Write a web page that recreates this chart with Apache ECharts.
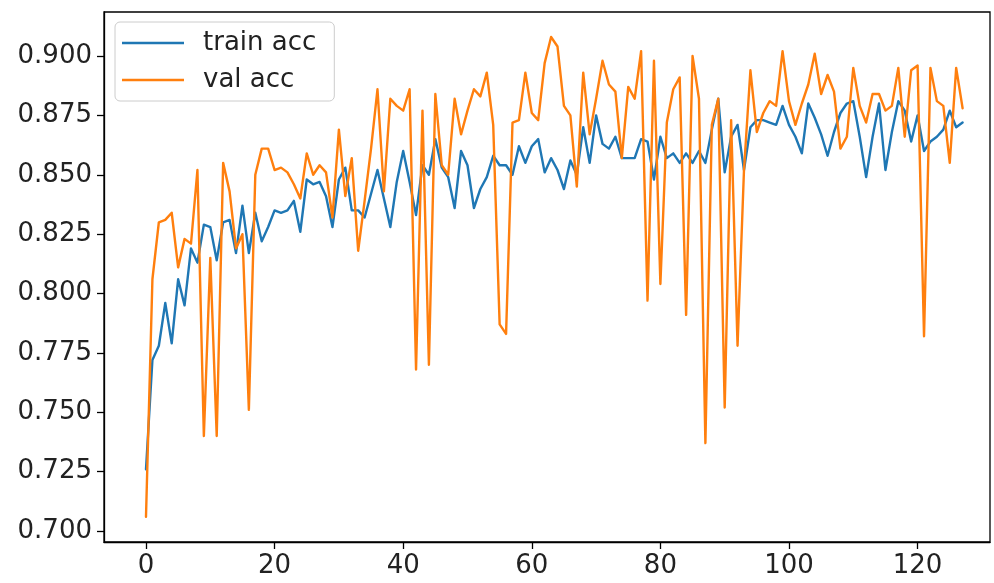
<!DOCTYPE html>
<html>
<head>
<meta charset="utf-8">
<script src="https://cdn.jsdelivr.net/npm/echarts@6/dist/echarts.min.js"></script>
<style>
html,body{margin:0;padding:0;background:#fff;}
#chart{width:994px;height:583px;}
</style>
</head>
<body>
<div id="chart"></div>
<script>
// ---- data ----
const seriesNames = ['train acc', 'val acc'];
const trainAcc = [
0.726,0.772,0.778,0.796,0.779,0.806,0.795,0.819,0.813,0.829,
0.828,0.814,0.830,0.831,0.817,0.837,0.817,0.834,0.822,0.828,
0.835,0.834,0.835,0.839,0.826,0.848,0.846,0.847,0.841,0.828,
0.848,0.853,0.835,0.835,0.832,0.842,0.852,0.840,0.828,0.847,
0.860,0.847,0.833,0.854,0.850,0.865,0.853,0.849,0.836,0.860,
0.854,0.836,0.844,0.849,0.858,0.854,0.854,0.850,0.862,0.855,
0.862,0.865,0.851,0.857,0.852,0.844,0.856,0.850,0.870,0.855,
0.875,0.863,0.861,0.866,0.857,0.857,0.857,0.865,0.864,0.848,
0.866,0.857,0.859,0.855,0.859,0.855,0.860,0.855,0.869,0.882,
0.851,0.866,0.871,0.852,0.870,0.873,0.873,0.872,0.871,0.879,
0.871,0.866,0.859,0.880,0.874,0.867,0.858,0.868,0.876,0.880,
0.881,0.866,0.849,0.866,0.880,0.852,0.868,0.881,0.877,0.864,
0.875,0.860,0.864,0.866,0.869,0.877,0.870,0.872
];
const valAcc = [
0.706,0.806,0.830,0.831,0.834,0.811,0.823,0.821,0.852,0.740,
0.815,0.740,0.855,0.843,0.819,0.825,0.751,0.850,0.861,0.861,
0.852,0.853,0.851,0.846,0.840,0.859,0.850,0.854,0.851,0.832,
0.869,0.841,0.857,0.818,0.839,0.861,0.886,0.843,0.882,0.879,
0.877,0.886,0.768,0.877,0.770,0.884,0.854,0.850,0.882,0.867,
0.877,0.886,0.883,0.893,0.871,0.787,0.783,0.872,0.873,0.893,
0.876,0.873,0.897,0.908,0.904,0.879,0.875,0.845,0.893,0.867,
0.882,0.898,0.888,0.885,0.857,0.887,0.882,0.902,0.797,0.898,
0.804,0.872,0.886,0.891,0.791,0.900,0.882,0.737,0.871,0.882,
0.752,0.873,0.778,0.852,0.894,0.868,0.876,0.881,0.879,0.902,
0.881,0.871,0.880,0.888,0.901,0.884,0.892,0.885,0.861,0.866,
0.895,0.879,0.872,0.884,0.884,0.877,0.879,0.895,0.866,0.894,
0.896,0.782,0.895,0.881,0.879,0.855,0.895,0.878
];
const xTicks = [0, 20, 40, 60, 80, 100, 120];
const yTicks = [0.700, 0.725, 0.750, 0.775, 0.800, 0.825, 0.850, 0.875, 0.900];

// ---- chart ----
const chart = echarts.init(document.getElementById('chart'), null, {renderer: 'canvas'});
const FONT = 'DejaVu Sans';
const toPairs = arr => arr.map((v, i) => [i, v]);

const option = {
  animation: false,
  backgroundColor: '#ffffff',
  grid: {
    left: 104, top: 12, width: 886, height: 530,
    show: true, borderColor: '#000', borderWidth: 1.3,
    backgroundColor: 'transparent', containLabel: false
  },
  legend: {
    orient: 'vertical',
    left: 115, top: 22,
    data: seriesNames.map(n => ({name: n, icon: 'rect'})),
    itemWidth: 62, itemHeight: 2.5, itemGap: 11,
    padding: [8, 18, 8, 7],
    backgroundColor: 'rgba(255,255,255,0.8)',
    borderColor: '#cccccc', borderWidth: 1, borderRadius: 5,
    textStyle: {fontFamily: FONT, fontSize: 26, color: '#222', lineHeight: 26, padding: [0, 0, 0, 14]}
  },
  xAxis: {
    type: 'value',
    min: -6.53, max: 131.26,
    axisLine: {show: true, onZero: false, lineStyle: {color: '#000', width: 1.3}},
    splitLine: {show: false},
    axisTick: {show: true, length: 7, inside: false, customValues: xTicks, lineStyle: {color: '#000', width: 1.3}},
    axisLabel: {customValues: xTicks, fontFamily: FONT, fontSize: 26, color: '#222', margin: 11,
      formatter: v => String(v)}
  },
  yAxis: {
    type: 'value',
    min: 0.69537, max: 0.91853,
    axisLine: {show: true, onZero: false, lineStyle: {color: '#000', width: 1.3}},
    splitLine: {show: false},
    axisTick: {show: true, length: 7, inside: false, customValues: yTicks, lineStyle: {color: '#000', width: 1.3}},
    axisLabel: {customValues: yTicks, fontFamily: FONT, fontSize: 26, color: '#222', margin: 12,
      formatter: v => v.toFixed(3)}
  },
  series: [
    {
      name: seriesNames[0], type: 'line', data: toPairs(trainAcc),
      showSymbol: false, symbol: 'none',
      lineStyle: {color: '#1f77b4', width: 2.4, join: 'round', cap: 'round'},
      itemStyle: {color: '#1f77b4'}
    },
    {
      name: seriesNames[1], type: 'line', data: toPairs(valAcc),
      showSymbol: false, symbol: 'none',
      lineStyle: {color: '#ff7f0e', width: 2.4, join: 'round', cap: 'round'},
      itemStyle: {color: '#ff7f0e'}
    }
  ]
};
chart.setOption(option);
</script>
</body>
</html>
